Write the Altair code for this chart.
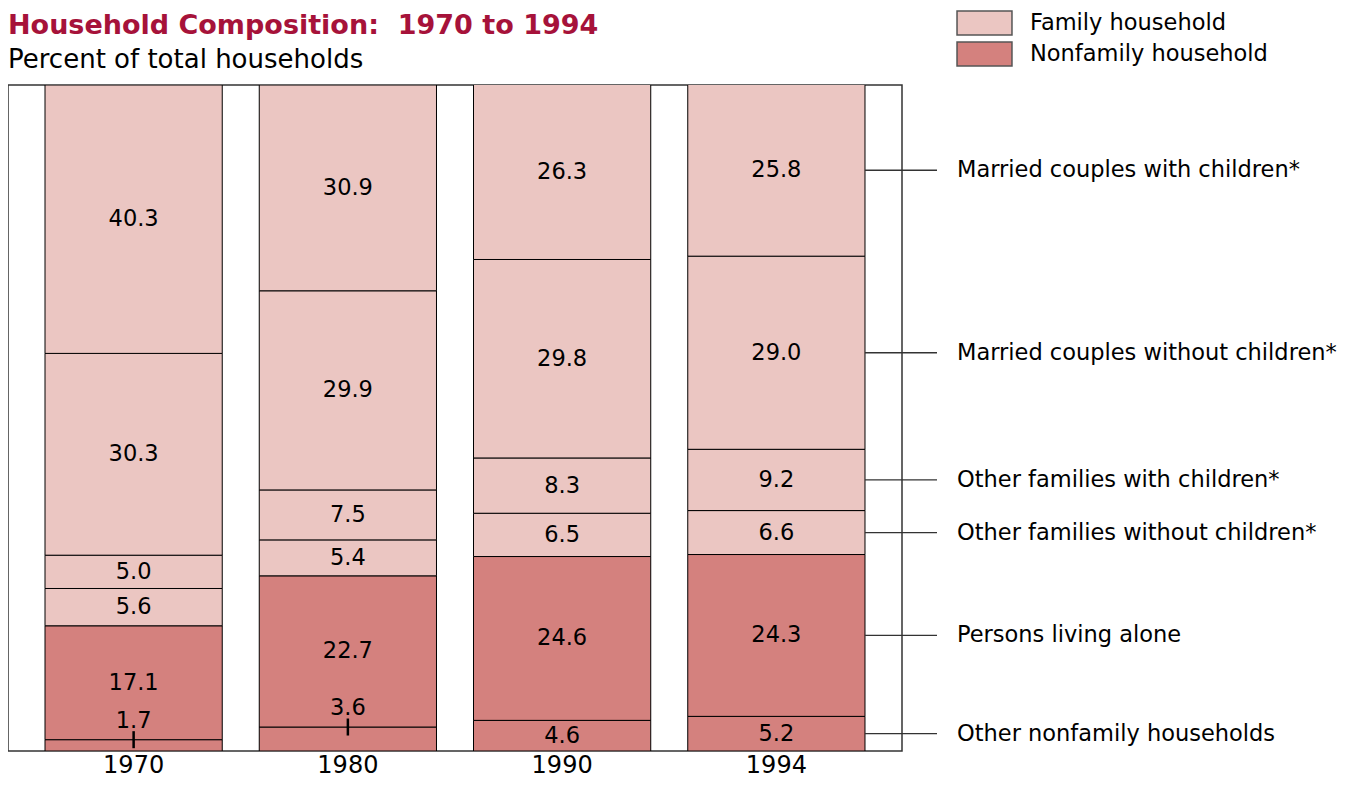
import altair as alt
import pandas as pd

years = ["1970", "1980", "1990", "1994"]
categories = [
    "Other nonfamily households",
    "Persons living alone",
    "Other families without children*",
    "Other families with children*",
    "Married couples without children*",
    "Married couples with children*",
]
household_type = [
    "Nonfamily household",
    "Nonfamily household",
    "Family household",
    "Family household",
    "Family household",
    "Family household",
]
values_1970 = [1.7, 17.1, 5.6, 5.0, 30.3, 40.3]
values_1980 = [3.6, 22.7, 5.4, 7.5, 29.9, 30.9]
values_1990 = [4.6, 24.6, 6.5, 8.3, 29.8, 26.3]
values_1994 = [5.2, 24.3, 6.6, 9.2, 29.0, 25.8]

title_text = "Household Composition:\u00a0 1970 to 1994"
subtitle_text = "Percent of total households"

series = {"1970": values_1970, "1980": values_1980, "1990": values_1990, "1994": values_1994}
rows = []
for yr in years:
    for i, cat in enumerate(categories):
        rows.append({"year": yr, "category": cat, "type": household_type[i],
                     "order": i, "value": series[yr][i]})
df = pd.DataFrame(rows)

FONT = "DejaVu Sans"
W, H = 894, 666

base = alt.Chart(df).transform_stack(
    stack="value", groupby=["year"], sort=[alt.SortField("order", order="ascending")],
    as_=["y0", "y1"]
).transform_calculate(mid="(datum.y0 + datum.y1) / 2")

xenc = alt.X("year:N", sort=years,
             scale=alt.Scale(paddingInner=0.1727, paddingOuter=0.1727),
             axis=alt.Axis(title=None, labelAngle=0, ticks=False, domain=False,
                           labelFont=FONT, labelFontSize=24, labelColor="black",
                           labelPadding=2))
yscale = alt.Scale(domain=[0, 100], nice=False, zero=True)

bars = base.mark_bar(stroke="black", strokeWidth=1, clip=True).encode(
    x=xenc,
    y=alt.Y("y0:Q", scale=yscale, axis=None),
    y2="y1:Q",
    color=alt.Color("type:N",
                    scale=alt.Scale(domain=["Family household", "Nonfamily household"],
                                    range=["#EBC6C2", "#D4817E"]),
                    legend=alt.Legend(title=None, orient="none", legendX=963.5, legendY=-75,
                                      symbolType="M-2.29,-1H2.29V1H-2.29Z", symbolSize=576,
                                      symbolStrokeColor="#555", symbolStrokeWidth=1.5,
                                      symbolOpacity=1, labelFont=FONT, labelFontSize=22.5,
                                      labelColor="black", labelOffset=32.5, labelLimit=500,
                                      rowPadding=1)),
)

inside = base.transform_filter("datum.value >= 4").mark_text(
    font=FONT, fontSize=22.5, color="black", baseline="middle").encode(
    x=alt.X("year:N", sort=years), y=alt.Y("mid:Q", scale=yscale), text=alt.Text("value:Q", format=".1f"))

above = base.transform_filter("datum.value < 4").mark_text(
    font=FONT, fontSize=22.5, color="black", baseline="middle", dy=-19).encode(
    x=alt.X("year:N", sort=years), y=alt.Y("y1:Q", scale=yscale), text=alt.Text("value:Q", format=".1f"))

ticks = base.transform_filter("datum.value < 4").mark_tick(
    orient="vertical", size=17, thickness=2.5, color="black", opacity=1).encode(
    x=alt.X("year:N", sort=years), y=alt.Y("y1:Q", scale=yscale))

last = base.transform_filter("datum.year == '1994'")
leaders = last.mark_rule(color="#333", strokeWidth=1.3).encode(
    x=alt.X("year:N", sort=years, bandPosition=1), x2=alt.value(929),
    y=alt.Y("mid:Q", scale=yscale))
side_labels = last.mark_text(font=FONT, fontSize=22.5, color="black", align="left",
                             baseline="middle").encode(
    x=alt.value(949), y=alt.Y("mid:Q", scale=yscale), text="category:N")

heading = alt.Chart(pd.DataFrame({"t": [title_text]})).mark_text(
    font=FONT, fontSize=27, fontWeight="bold", color="#A6123A", align="left",
    baseline="alphabetic").encode(x=alt.value(0), y=alt.value(-51), text="t:N")
subheading = alt.Chart(pd.DataFrame({"t": [subtitle_text]})).mark_text(
    font=FONT, fontSize=26, color="black", align="left",
    baseline="alphabetic").encode(x=alt.value(0), y=alt.value(-17), text="t:N")

chart = alt.layer(bars, inside, above, ticks, leaders, side_labels, heading, subheading).properties(
    width=W, height=H,
    autosize=alt.AutoSizeParams(type="none"),
    padding={"left": 0, "top": 77, "right": 441, "bottom": 28},
).configure_view(stroke="#333", strokeWidth=1.5)

chart.save("out.html", embed_options={"renderer": "svg", "actions": False})
